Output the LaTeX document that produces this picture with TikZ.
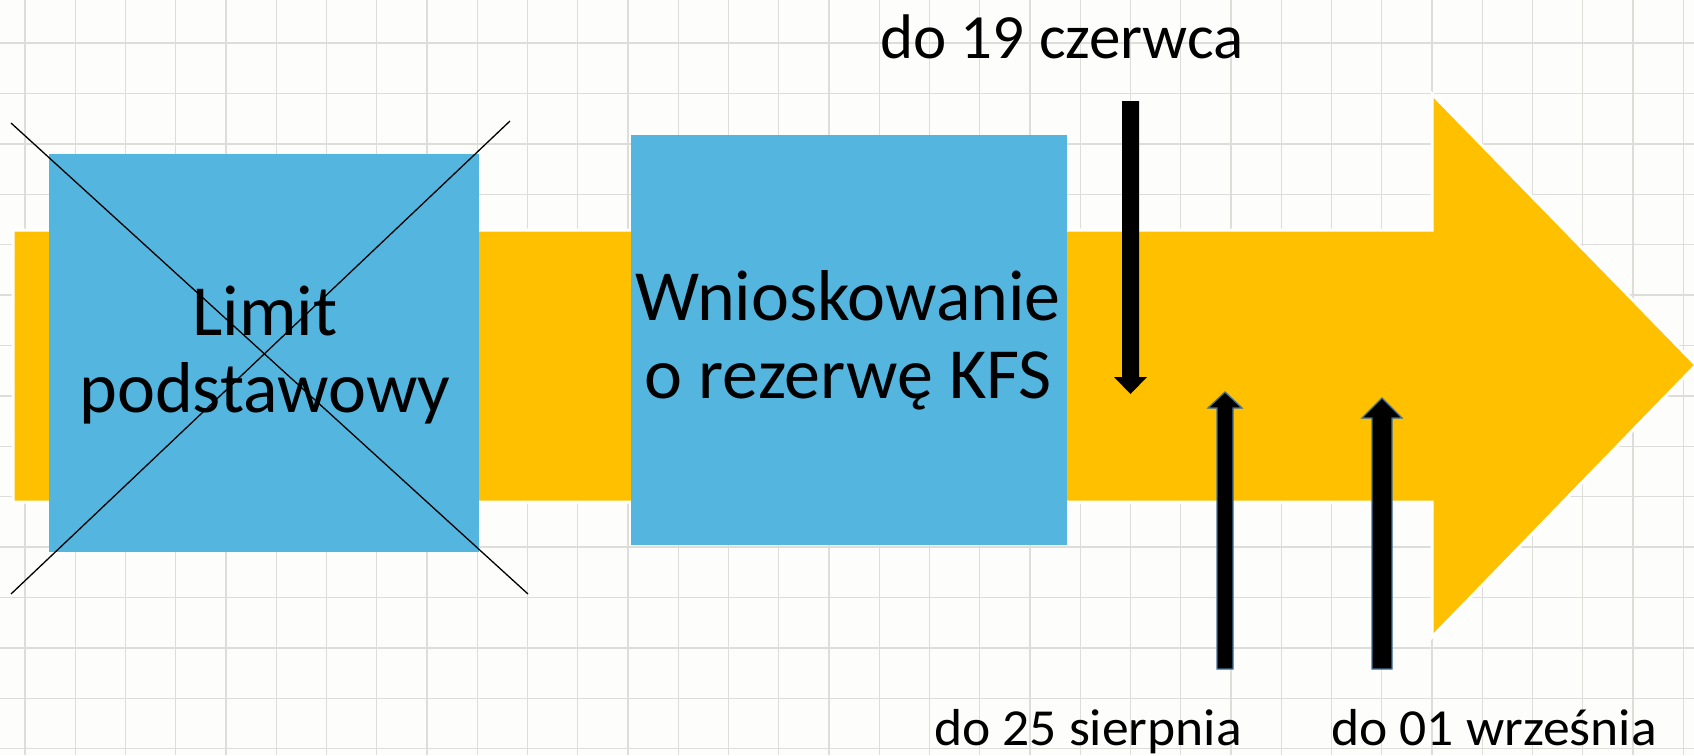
\documentclass[tikz,border=0pt]{standalone}
\usepackage{fontspec}
\setmainfont{Carlito}
\definecolor{bgc}{HTML}{FDFDFB}
\definecolor{gridc}{HTML}{DDDDDA}
\definecolor{timeline}{HTML}{FFC000}
\definecolor{boxblue}{HTML}{54B5DF}
\definecolor{arrowedge}{HTML}{41719C}
\tikzset{
  bigtext/.style={font=\fontsize{72}{78}\selectfont, anchor=base, inner sep=0pt},
  toptext/.style={font=\fontsize{63}{70}\selectfont, anchor=base, inner sep=0pt},
  datetext/.style={font=\fontsize{52}{60}\selectfont, anchor=base, inner sep=0pt},
  bluebox/.style={fill=boxblue, draw=none},
  crossline/.style={draw=black, line width=1.3pt},
  blockarrow/.style={fill=black},
  outlinedarrow/.style={fill=black, draw=arrowedge, line width=1.3pt, line join=miter},
}
\begin{document}
\begin{tikzpicture}[x=1pt,y=-1pt]
\useasboundingbox (0,0) rectangle (1694,755);
\fill[bgc] (0,0) rectangle (1694,755);
% grid
\foreach \k in {0,...,33} {
  \draw[gridc, line width=1.4pt] ({25+50.25*\k},0) -- ({25+50.25*\k},755);
}
\foreach \k in {0,...,14} {
  \draw[gridc, line width=1.4pt] (0,{43+50.4*\k}) -- (1694,{43+50.4*\k});
}
% timeline arrow
\filldraw[fill=timeline, draw=white, line width=3pt, line join=miter]
  (13,230) -- (1432,230) -- (1432,94) -- (1696,365) -- (1432,637) -- (1432,502) -- (13,502) -- cycle;
% boxes
\node[bluebox, minimum width=430pt, minimum height=398pt, inner sep=0pt] (limit) at (264,353) {};
\node[bluebox, minimum width=436pt, minimum height=410pt, inner sep=0pt] (wnio) at (849,340) {};
\node[bigtext] (l1) at (265,335) {Limit};
\node[bigtext] (l2) at (265,412) {podstawowy};
\node[bigtext] (w1) at (848,320) {Wnioskowanie};
\node[bigtext] (w2) at (848,398) {o rezerwę KFS};
% cross
\coordinate (xa) at (11,123);
\coordinate (xb) at (528,594);
\coordinate (xc) at (11,594);
\coordinate (xd) at (510,121);
\draw[crossline] (xa) -- (xb);
\draw[crossline] (xc) -- (xd);
% black arrows
\fill[blockarrow] (1122,101) -- (1139,101) -- (1139,377) -- (1147,377) -- (1130.5,394) -- (1114,377) -- (1122,377) -- cycle;
\filldraw[outlinedarrow] (1217,669) -- (1233,669) -- (1233,408) -- (1242,408) -- (1225,392) -- (1208,408) -- (1217,408) -- cycle;
\filldraw[outlinedarrow] (1372,669) -- (1392,669) -- (1392,418) -- (1402,418) -- (1382,398) -- (1362,418) -- (1372,418) -- cycle;
% dates
\node[toptext] (d1) at (1062,58) {do 19 czerwca};
\node[datetext] (d2) at (1088,745) {\scalebox{1.03}[1]{do 25 sierpnia}};
\node[datetext] (d3) at (1494,745) {\scalebox{1.03}[1]{do 01 września}};
\end{tikzpicture}
\end{document}
